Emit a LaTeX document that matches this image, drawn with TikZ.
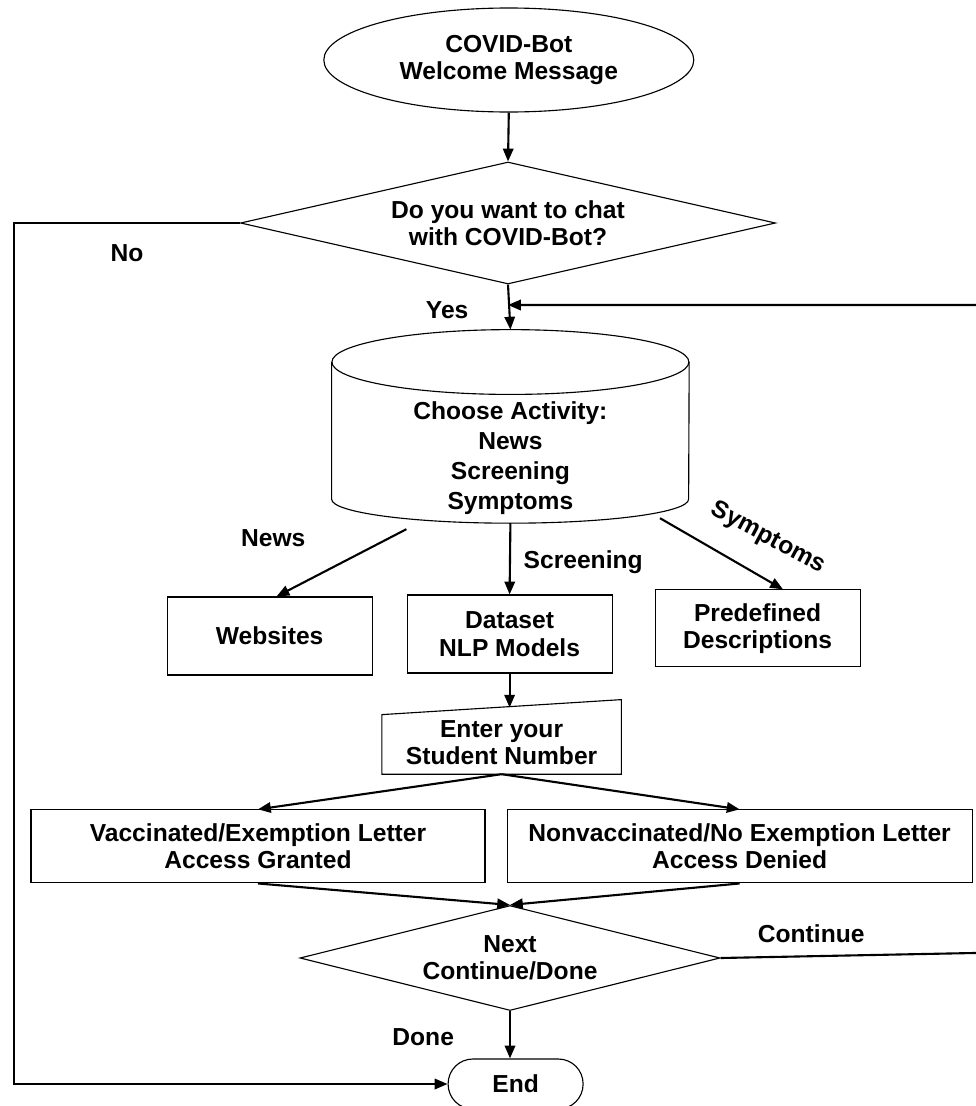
\documentclass[tikz,border=0pt]{standalone}
\usepackage{fontspec}
\setmainfont{Liberation Sans}
\usetikzlibrary{shapes.geometric,arrows.meta,positioning,calc}

\tikzset{
  every node/.style={font=\fontsize{17.5}{19.5}\selectfont\bfseries, align=center},
  box/.style={draw, line width=0.8pt, inner sep=0pt},
  decision/.style={draw, diamond, line width=0.8pt, inner sep=0pt},
  conn/.style={line width=1.5pt, -{Triangle[length=0.32cm,width=0.26cm]}},
}

\begin{document}
\begin{tikzpicture}
\useasboundingbox (0,0) rectangle (24.4,-27.65);

% start and question
\node[draw, ellipse, line width=0.8pt, minimum width=9.25cm, minimum height=2.6cm, inner sep=0pt] (welcome) at (12.72,-1.5) {COVID-Bot\\Welcome Message};
\node[decision, aspect=4.385, minimum width=13.375cm, minimum height=3.05cm] (chat) at (12.7,-5.575) {Do you want to chat\\with COVID-Bot?};

% activity store (cylinder)
\node[minimum width=8.925cm, minimum height=4.825cm, inner sep=0pt] (act) at (12.76,-10.66) {};
\draw[line width=0.8pt] ($(act.north)+(0,-0.81)$) ellipse [x radius=4.4625cm, y radius=0.81cm];
\draw[line width=0.8pt] ($(act.north west)+(0,-0.81)$) -- ($(act.south west)+(0,0.6)$)
  arc[start angle=180, end angle=360, x radius=4.4625cm, y radius=0.6cm] -- ($(act.north east)+(0,-0.81)$);
\node[font=\fontsize{17.5}{21.3}\selectfont\bfseries] (acttext) at ($(act.center)+(0,-0.8)$) {Choose Activity:\\News\\Screening\\Symptoms};

% what each activity gives
\node[box, minimum width=5.125cm, minimum height=1.95cm] (web) at (6.74,-15.9) {Websites};
\node[box, minimum width=5.125cm, minimum height=1.95cm] (data) at (12.74,-15.85) {Dataset\\NLP Models};
\node[box, minimum width=5.125cm, minimum height=1.925cm] (pre) at (18.94,-15.71) {Predefined\\Descriptions};

% manual input
\node[minimum width=5.975cm, minimum height=1.575cm, inner sep=0pt] (inp) at (12.54,-18.56) {Enter your\\Student Number};
\draw[line width=0.8pt] (inp.south west) -- ($(inp.north west)+(0,-0.1)$) -- ($(inp.north east)+(0,0.275)$) -- (inp.south east) -- cycle;

% access
\node[box, minimum width=11.35cm, minimum height=1.825cm] (vac) at (6.45,-21.16) {Vaccinated/Exemption Letter\\Access Granted};
\node[box, minimum width=11.625cm, minimum height=1.825cm] (non) at (18.49,-21.16) {Nonvaccinated/No Exemption Letter\\Access Denied};

\node[decision, aspect=4, minimum width=10.5cm, minimum height=2.625cm] (next) at (12.75,-23.95) {Next\\Continue/Done};
\node[draw, line width=0.8pt, rounded corners=0.62cm, minimum width=3.375cm, minimum height=1.25cm] (end) at (12.89,-27.1) {End};

% main flow
\draw[conn] (welcome.south) -- (chat.north);
\draw[conn] (chat.south) -- (act.north);
\draw[conn] ($(act.south)+(-2.6,-0.15)$) -- (web.80);
\draw[conn] (act.south) -- (data.north);
\draw[conn] ($(act.south)+(3.74,0.125)$) -- (pre.57);
\draw[conn] (data.south) -- ++(0,-0.85);
\draw[conn] (inp.south) -- (vac.north);
\draw[conn] (inp.south) -- (non.north);
\draw[conn] (vac.south) -- (next.north);
\draw[conn] (non.south) -- (next.north);
\draw[conn] (next.south) -- (next.south |- end.north);

% no branch
\coordinate (nocorner) at (0.35,-5.575);
\draw[conn] (chat.west) -- (nocorner) |- (end.west);

% continue loop
\coordinate (loopout) at (24.6,-23.82);
\coordinate (loopin) at (24.6,-7.625);
\draw[conn] (next.east) -- (loopout) -- (loopin) -- (chat.south |- loopin);

% labels
\node at (3.175,-6.325) {No};
\node at (11.18,-7.75) {Yes};
\node at (6.83,-13.45) {News};
\node at (14.58,-14.05) {Screening};
\node[rotate=-28] at (19.2,-13.45) {Symptoms};
\node at (20.28,-23.33) {Continue};
\node at (10.58,-25.93) {Done};

\end{tikzpicture}
\end{document}
